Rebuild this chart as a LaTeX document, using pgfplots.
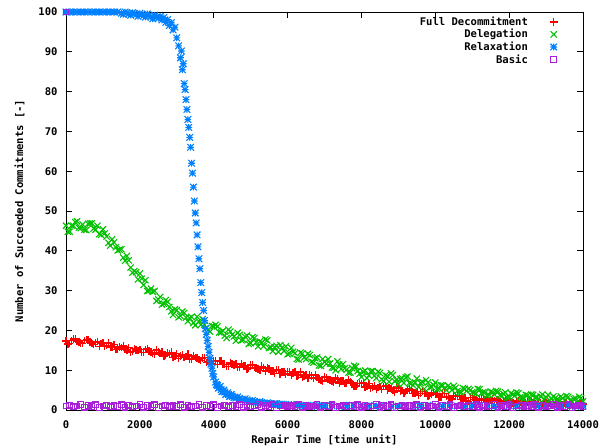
\documentclass[border=0pt]{standalone}
\usepackage{fontspec}
\setmainfont{DejaVu Sans Mono}
\usepackage{pgfplots}
\pgfplotsset{compat=1.18}
\definecolor{gred}{HTML}{FF0000}
\definecolor{ggreen}{HTML}{00C000}
\definecolor{gblue}{HTML}{0080FF}
\definecolor{gpurple}{HTML}{A820D8}
\pgfdeclareplotmark{gplus}{%
  \pgfpathmoveto{\pgfqpoint{-\pgfplotmarksize}{0pt}}\pgfpathlineto{\pgfqpoint{\pgfplotmarksize}{0pt}}%
  \pgfpathmoveto{\pgfqpoint{0pt}{-\pgfplotmarksize}}\pgfpathlineto{\pgfqpoint{0pt}{\pgfplotmarksize}}%
  \pgfusepathqstroke}
\pgfdeclareplotmark{gstar}{%
  \pgfpathmoveto{\pgfqpoint{-\pgfplotmarksize}{0pt}}\pgfpathlineto{\pgfqpoint{\pgfplotmarksize}{0pt}}%
  \pgfpathmoveto{\pgfqpoint{0pt}{-\pgfplotmarksize}}\pgfpathlineto{\pgfqpoint{0pt}{\pgfplotmarksize}}%
  \pgfpathmoveto{\pgfqpoint{-\pgfplotmarksize}{-\pgfplotmarksize}}\pgfpathlineto{\pgfqpoint{\pgfplotmarksize}{\pgfplotmarksize}}%
  \pgfpathmoveto{\pgfqpoint{-\pgfplotmarksize}{\pgfplotmarksize}}\pgfpathlineto{\pgfqpoint{\pgfplotmarksize}{-\pgfplotmarksize}}%
  \pgfusepathqstroke}
\pgfdeclareplotmark{gx}{%
  \pgfpathmoveto{\pgfqpoint{-\pgfplotmarksize}{-\pgfplotmarksize}}\pgfpathlineto{\pgfqpoint{\pgfplotmarksize}{\pgfplotmarksize}}%
  \pgfpathmoveto{\pgfqpoint{-\pgfplotmarksize}{\pgfplotmarksize}}\pgfpathlineto{\pgfqpoint{\pgfplotmarksize}{-\pgfplotmarksize}}%
  \pgfusepathqstroke}
\newcommand{\gfont}{\bfseries\fontsize{10.6}{12}\selectfont}
\begin{document}
\begin{tikzpicture}
\begin{axis}[
  scale only axis, width=517bp, height=398bp,
  xmin=0, xmax=14000, ymin=0, ymax=100,
  xtick={0,2000,...,14000}, ytick={0,10,...,100},
  tick align=inside, major tick length=6bp, minor tick num=0, tick pos=both,
  axis line style={line width=0.8bp, black},
  tick style={line width=0.8bp, black},
  font=\gfont,
  ticklabel style={font=\gfont},
  xticklabel style={yshift=-7bp},
  yticklabel style={xshift=-5bp},
  /pgf/number format/assume math mode=true,
  /pgf/number format/1000 sep={},
  scaled x ticks=false, scaled y ticks=false,
  xlabel={Repair Time [time unit]},
  ylabel={Number of Succeeded Commitments [-]},
  ylabel shift=7bp,
  label style={font=\gfont},
  clip=false,
  legend plot pos=right,
  legend cell align=right,
  legend style={draw=none, fill=none, at={(0.953,0.996)}, anchor=north east,
    font=\gfont, row sep=-1.5bp, column sep=20bp, inner sep=1bp},
  every axis plot/.append style={only marks, line width=1.1bp},
]
\addplot[color=gred, mark=gplus, mark size=3.8bp, mark options={draw=gred, line width=1.4bp}] coordinates {
(0,17.3)(100,16.7)(200,17.8)(300,17.2)(400,16.8)(500,17.5)(600,17.6)(700,16.7)(800,16.9)(900,16.0)
(1000,16.9)(1100,16.2)(1200,15.8)(1300,16.5)(1400,15.3)(1500,15.7)(1600,15.3)(1700,15.7)(1800,14.7)(1900,15.1)
(2000,15.2)(2100,14.4)(2200,15.3)(2300,14.5)(2400,13.9)(2500,14.5)(2600,14.6)(2700,13.8)(2800,14.1)(2900,13.2)
(3000,14.2)(3100,13.6)(3200,13.2)(3300,14.0)(3400,12.8)(3500,13.2)(3600,12.7)(3700,13.0)(3800,11.9)(3900,12.3)
(4000,12.3)(4100,11.5)(4200,12.4)(4300,11.5)(4400,11.0)(4500,11.6)(4600,11.6)(4700,10.8)(4800,11.1)(4900,10.3)
(5000,11.3)(5100,10.7)(5200,10.3)(5300,11.0)(5400,9.8)(5500,10.3)(5600,9.8)(5700,10.2)(5800,9.1)(5900,9.6)
(6000,9.6)(6100,8.8)(6200,9.6)(6300,8.8)(6400,8.2)(6500,8.8)(6600,8.8)(6700,8.0)(6800,8.2)(6900,7.4)
(7000,8.3)(7100,7.7)(7200,7.3)(7300,8.0)(7400,6.8)(7500,7.3)(7600,6.8)(7700,7.2)(7800,6.1)(7900,6.6)
(8000,6.6)(8100,5.8)(8200,6.6)(8300,5.8)(8400,5.3)(8500,5.9)(8600,5.9)(8700,5.1)(8800,5.4)(8900,4.5)
(9000,5.5)(9100,4.9)(9200,4.6)(9300,5.3)(9400,4.1)(9500,4.6)(9600,4.2)(9700,4.6)(9800,3.5)(9900,4.0)
(10000,4.1)(10100,3.3)(10200,4.2)(10300,3.4)(10400,2.9)(10500,3.5)(10600,3.5)(10700,2.7)(10800,3.0)(10900,2.2)
(11000,3.2)(11100,2.6)(11200,2.5)(11300,2.9)(11400,2.3)(11500,2.5)(11600,2.2)(11700,2.5)(11800,1.9)(11900,2.3)
(12000,2.3)(12100,1.8)(12200,2.4)(12300,1.9)(12400,1.6)(12500,2.0)(12600,2.0)(12700,1.6)(12800,1.8)(12900,1.4)
(13000,1.9)(13100,1.6)(13200,1.4)(13300,1.9)(13400,1.3)(13500,1.6)(13600,1.3)(13700,1.6)(13800,1.1)(13900,1.4)(14000,1.5)
(50,16.6)(150,17.5)(250,17.9)(350,17.1)(450,16.7)(550,17.7)(650,17.1)(750,16.5)(850,17.2)(950,16.7)
(1050,16.0)(1150,16.8)(1250,15.8)(1350,15.2)(1450,15.9)(1550,16.1)(1650,15.1)(1750,14.6)(1850,15.5)(1950,15.0)
(2050,14.5)(2150,15.2)(2250,14.8)(2350,14.2)(2450,15.1)(2550,14.2)(2650,13.6)(2750,14.3)(2850,14.5)(2950,13.6)
(3050,13.0)(3150,13.9)(3250,13.4)(3350,12.8)(3450,13.6)(3550,13.1)(3650,12.4)(3750,13.2)(3850,12.2)(3950,11.6)
(4050,12.3)(4150,12.4)(4250,11.5)(4350,11.0)(4450,11.8)(4550,11.3)(4650,10.8)(4750,11.6)(4850,11.2)(4950,10.6)
(5050,11.4)(5150,10.5)(5250,9.9)(5350,10.6)(5450,10.7)(5550,9.8)(5650,9.2)(5750,10.1)(5850,9.5)(5950,9.0)
(6050,9.7)(6150,9.3)(6250,8.6)(6350,9.5)(6450,8.5)(6550,8.0)(6650,8.6)(6750,8.8)(6850,7.8)(6950,7.3)
(7050,8.1)(7150,7.6)(7250,7.0)(7350,7.8)(7450,7.3)(7550,6.7)(7650,7.5)(7750,6.6)(7850,6.0)(7950,6.7)
(8050,6.8)(8150,5.9)(8250,5.4)(8350,6.2)(8450,5.7)(8550,5.2)(8650,6.0)(8750,5.5)(8850,4.9)(8950,5.8)
(9050,4.8)(9150,4.3)(9250,5.0)(9350,5.2)(9450,4.3)(9550,3.7)(9650,4.6)(9750,4.1)(9850,3.6)(9950,4.4)
(10050,3.9)(10150,3.3)(10250,4.2)(10350,3.3)(10450,2.8)(10550,3.5)(10650,3.7)(10750,2.8)(10850,2.3)(10950,3.2)
(11050,2.7)(11150,2.4)(11250,2.9)(11350,2.6)(11450,2.2)(11550,2.8)(11650,2.2)(11750,2.0)(11850,2.4)(11950,2.5)
(12050,2.0)(12150,1.6)(12250,2.2)(12350,2.0)(12450,1.7)(12550,2.2)(12650,1.7)(12750,1.4)(12850,1.9)(12950,2.0)
(13050,1.5)(13150,1.2)(13250,1.7)(13350,1.6)(13450,1.3)(13550,1.8)(13650,1.3)(13750,1.1)(13850,1.5)(13950,1.7)
};
\addlegendentry{Full Decommitment}
\addplot[color=ggreen, mark=gx, mark size=3.1bp, mark options={draw=ggreen}] coordinates {
(0,46.3)(100,44.8)(200,46.3)(300,47.4)(400,45.7)(500,45.3)(600,46.8)(700,46.9)(800,45.3)(900,44.2)
(1000,45.4)(1100,43.6)(1200,41.3)(1300,42.1)(1400,40.1)(1500,40.4)(1600,37.5)(1700,37.6)(1800,34.5)(1900,34.6)
(2000,34.3)(2100,31.4)(2200,29.9)(2300,30.5)(2400,29.9)(2500,27.8)(2600,26.5)(2700,27.6)(2800,25.9)(2900,23.9)
(3000,25.1)(3100,23.6)(3200,24.4)(3300,22.3)(3400,23.4)(3500,21.3)(3600,22.3)(3700,22.8)(3800,20.6)(3900,19.7)
(4000,21.0)(4100,21.0)(4200,19.5)(4300,18.7)(4400,20.2)(4500,18.9)(4600,17.4)(4700,18.9)(4800,17.6)(4900,18.7)
(5000,16.8)(5100,18.1)(5200,16.0)(5300,17.0)(5400,17.7)(5500,15.6)(5600,14.8)(5700,16.1)(5800,16.3)(5900,14.8)
(6000,14.0)(6100,15.6)(6200,14.3)(6300,12.7)(6400,14.2)(6500,12.8)(6600,13.8)(6700,11.9)(6800,13.2)(6900,11.1)
(7000,12.1)(7100,12.8)(7200,10.7)(7300,10.0)(7400,11.4)(7500,11.5)(7600,10.1)(7700,9.4)(7800,11.1)(7900,9.8)
(8000,8.3)(8100,9.9)(8200,8.7)(8300,9.8)(8400,8.0)(8500,9.3)(8600,7.3)(8700,8.5)(8800,9.2)(8900,7.2)
(9000,6.5)(9100,8.0)(9200,8.2)(9300,6.8)(9400,6.2)(9500,7.9)(9600,6.8)(9700,5.3)(9800,6.9)(9900,5.8)
(10000,6.9)(10100,5.4)(10200,6.2)(10300,5.0)(10400,5.7)(10500,6.0)(10600,4.8)(10700,4.4)(10800,5.3)(10900,5.3)
(11000,4.5)(11100,4.1)(11200,5.2)(11300,4.5)(11400,3.6)(11500,4.6)(11600,3.9)(11700,4.6)(11800,3.6)(11900,4.4)
(12000,3.2)(12100,3.9)(12200,4.4)(12300,3.2)(12400,2.8)(12500,3.7)(12600,3.9)(12700,3.1)(12800,2.7)(12900,3.9)
(13000,3.2)(13100,2.4)(13200,3.4)(13300,2.7)(13400,3.4)(13500,2.4)(13600,3.3)(13700,2.1)(13800,2.9)(13900,3.3)(14000,2.2)
(50,44.8)(150,46.3)(250,47.2)(350,45.8)(450,46.6)(550,45.2)(650,46.9)(750,45.6)(850,46.3)(950,44.0)
(1050,44.4)(1150,42.0)(1250,42.9)(1350,40.9)(1450,40.3)(1550,38.3)(1650,38.7)(1750,35.8)(1850,34.9)(1950,32.8)
(2050,33.0)(2150,32.6)(2250,30.0)(2350,29.7)(2450,27.4)(2550,28.4)(2650,26.7)(2750,27.2)(2850,24.8)(2950,25.3)
(3050,23.3)(3150,24.7)(3250,23.2)(3350,23.1)(3450,21.9)(3550,23.4)(3650,21.4)(3750,21.4)(3850,20.1)(3950,21.1)
(4050,21.4)(4150,19.5)(4250,19.9)(4350,18.1)(4450,19.7)(4550,18.5)(4650,19.4)(4750,17.5)(4850,18.4)(4950,16.6)
(5050,18.3)(5150,17.0)(5250,17.2)(5350,16.0)(5450,17.5)(5550,15.7)(5650,15.8)(5750,14.6)(5850,15.6)(5950,16.0)
(6050,14.2)(6150,14.6)(6250,12.8)(6350,14.4)(6450,13.2)(6550,14.1)(6650,12.1)(6750,13.0)(6850,11.2)(6950,12.8)
(7050,11.6)(7150,11.7)(7250,10.6)(7350,12.2)(7450,10.3)(7550,10.5)(7650,9.4)(7750,10.5)(7850,10.9)(7950,9.1)
(8050,9.6)(8150,8.0)(8250,9.7)(8350,8.6)(8450,9.6)(8550,7.7)(8650,8.7)(8750,7.1)(8850,8.8)(8950,7.6)
(9050,7.8)(9150,6.8)(9250,8.4)(9350,6.7)(9450,6.9)(9550,5.8)(9650,7.0)(9750,7.5)(9850,5.7)(9950,6.3)
(10050,5.2)(10150,6.2)(10250,5.5)(10350,6.1)(10450,5.0)(10550,5.6)(10650,4.5)(10750,5.5)(10850,4.8)(10950,5.0)
(11050,4.3)(11150,5.3)(11250,4.2)(11350,4.4)(11450,3.8)(11550,4.4)(11650,4.8)(11750,3.7)(11850,4.0)(11950,3.1)
(12050,4.2)(12150,3.6)(12250,4.2)(12350,3.1)(12450,3.8)(12550,2.8)(12650,3.8)(12750,3.2)(12850,3.4)(12950,2.7)
(13050,3.8)(13150,2.8)(13250,3.0)(13350,2.4)(13450,3.0)(13550,3.5)(13650,2.4)(13750,2.8)(13850,1.9)(13950,3.0)
};
\addlegendentry{Delegation}
\addplot[color=gblue, mark=gstar, mark size=3.3bp, mark options={draw=gblue}] coordinates {
(0,100)(100,100)(200,100)(300,100)(400,100)(500,100)(600,100)(700,100)(800,100)(900,100)
(1000,100)(1100,100)(1200,100)(1300,100)(1400,100)(1500,99.7)(1600,100)(1700,99.5)(1800,99.8)(1900,99.3)
(2000,99.7)(2100,99.1)(2200,99.5)(2300,98.8)(2400,99.2)(2500,98.4)(2550,98.9)(2600,98.0)(2650,98.6)(2700,97.4)
(2750,98.1)(2800,96.6)(2850,97.3)(2900,95.5)(2950,96.2)(3000,93.5)(3050,91.5)(3100,88.5)(3125,90.2)(3150,85.5)
(3175,87.0)(3200,82.0)(3225,80.5)(3250,78.0)(3275,75.5)(3300,73.0)(3325,71.0)(3350,68.5)(3375,66.0)(3400,62.0)
(3425,59.5)(3450,56.0)(3475,52.5)(3500,49.5)(3525,47.0)(3550,44.0)(3575,41.0)(3600,38.0)(3625,35.5)(3650,32.0)
(3675,29.5)(3700,27.0)(3725,25.0)(3750,22.5)(3775,20.5)(3800,19.0)(3825,17.5)(3850,16.0)(3875,14.5)(3900,13.0)
(3925,11.5)(3950,10.5)(3975,9.2)(4000,8.3)(4050,7.0)(4100,6.2)(4150,5.6)(4200,5.1)(4250,4.7)(4300,4.5)
(4350,4.0)(4400,3.9)(4450,3.5)(4500,3.5)(4600,3.0)(4700,2.9)(4800,2.5)(4900,2.5)(5000,2.1)(5100,2.2)
(5200,1.8)(5300,1.9)(5400,1.6)(5500,1.7)(5600,1.4)(5700,1.6)(5800,1.3)(5900,1.4)(6000,1.2)(6100,1.4)
(6200,1.1)(6300,1.3)(6400,1.0)(6500,1.2)(6600,1.0)(6700,1.2)(6800,0.9)(6900,1.1)(7000,1.0)(7200,1.1)
(7400,0.9)(7600,1.2)(7800,1.0)(8000,0.9)(8200,1.1)(8400,1.0)(8600,1.2)(8800,0.9)(9000,1.0)(9200,1.1)
(9400,0.9)(9600,1.0)(9800,1.2)(10000,1.0)(10200,0.9)(10400,1.1)(10600,1.0)(10800,0.9)(11000,1.1)(11200,1.0)
(11400,1.2)(11600,0.9)(11800,1.0)(12000,1.1)(12200,0.9)(12400,1.0)(12600,1.1)(12800,1.0)(13000,0.9)(13200,1.1)
(13400,1.0)(13600,1.2)(13800,0.9)(14000,1.0)
(1550,99.4)(1650,99.8)(1750,99.2)(1850,99.6)(1950,98.9)(2050,99.4)(2150,98.7)(2250,99.1)(2350,98.3)(2450,98.7)
(4075,6.4)(4125,5.5)(4175,5.9)(4225,4.6)(4275,5.0)(4325,3.9)(4375,4.3)(4425,3.4)(4475,3.9)(4550,3.1)
(4650,3.3)(4750,2.6)(4850,2.8)(4950,2.2)(5050,2.4)(5150,1.9)(5250,2.1)(5350,1.7)(5450,1.8)(5550,1.5)
(5650,1.6)(5750,1.3)(5850,1.5)(5950,1.2)
};
\addlegendentry{Relaxation}
\addplot[color=gpurple, mark=square, mark size=2.8bp, mark options={draw=gpurple}] coordinates {
(0,100)(0,1.0)
(100,1.2)(200,0.8)(300,1.0)(400,1.4)(500,0.7)(600,1.1)(700,0.9)(800,1.3)(900,0.6)(1000,1.0)(1100,1.2)(1200,0.8)(1300,1.1)(1400,0.9)(1500,1.3)(1600,0.7)
(1700,1.2)(1800,0.8)(1900,1.0)(2000,1.4)(2100,0.7)(2200,1.1)(2300,0.9)(2400,1.3)(2500,0.6)(2600,1.0)(2700,1.2)(2800,0.8)(2900,1.1)(3000,0.9)(3100,1.3)(3200,0.7)
(3300,1.2)(3400,0.8)(3500,1.0)(3600,1.4)(3700,0.7)(3800,1.1)(3900,0.9)(4000,1.3)(4100,0.6)(4200,1.0)(4300,1.2)(4400,0.8)(4500,1.1)(4600,0.9)(4700,1.3)(4800,0.7)
(4900,1.2)(5000,0.8)(5100,1.0)(5200,1.4)(5300,0.7)(5400,1.1)(5500,0.9)(5600,1.3)(5700,0.6)(5800,1.0)(5900,1.2)(6000,0.8)(6100,1.1)(6200,0.9)(6300,1.3)(6400,0.7)
(6500,1.2)(6600,0.8)(6700,1.0)(6800,1.4)(6900,0.7)(7000,1.1)(7100,0.9)(7200,1.3)(7300,0.6)(7400,1.0)(7500,1.2)(7600,0.8)(7700,1.1)(7800,0.9)(7900,1.3)(8000,0.7)
(8100,1.2)(8200,0.8)(8300,1.0)(8400,1.4)(8500,0.7)(8600,1.1)(8700,0.9)(8800,1.3)(8900,0.6)(9000,1.0)(9100,1.2)(9200,0.8)(9300,1.1)(9400,0.9)(9500,1.3)(9600,0.7)
(9700,1.2)(9800,0.8)(9900,1.0)(10000,1.4)(10100,0.7)(10200,1.1)(10300,0.9)(10400,1.3)(10500,0.6)(10600,1.0)(10700,1.2)(10800,0.8)(10900,1.1)(11000,0.9)(11100,1.3)(11200,0.7)
(11300,1.2)(11400,0.8)(11500,1.0)(11600,1.4)(11700,0.7)(11800,1.1)(11900,0.9)(12000,1.3)(12100,0.6)(12200,1.0)(12300,1.2)(12400,0.8)(12500,1.1)(12600,0.9)(12700,1.3)(12800,0.7)
(12900,1.2)(13000,0.8)(13100,1.0)(13200,1.4)(13300,0.7)(13400,1.1)(13500,0.9)(13600,1.3)(13700,0.6)(13800,1.0)(13900,1.2)(14000,0.8)
};
\addlegendentry{Basic}
\end{axis}
\pgfresetboundingbox
\path[use as bounding box] ([shift={(-66bp,-38bp)}]current axis.south west) rectangle ([shift={(17bp,12bp)}]current axis.north east);
\end{tikzpicture}
\end{document}
